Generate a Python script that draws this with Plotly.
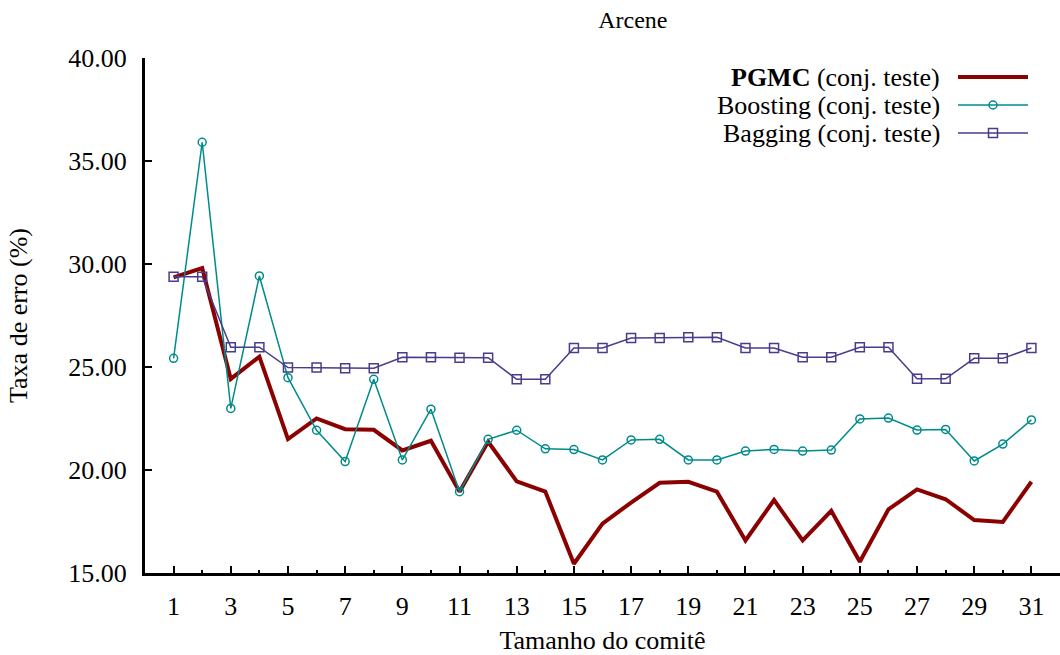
import plotly.graph_objects as go

# Committee sizes
comite = list(range(1, 32))

# Test-set error rates (%) for each method
pgmc = [29.35, 29.80, 24.42, 25.50, 21.50, 22.50, 21.98, 21.95, 20.95, 21.42,
        18.95, 21.37, 19.45, 18.95, 15.45, 17.40, 18.42, 19.38, 19.43, 18.95,
        16.58, 18.54, 16.58, 18.02, 15.55, 18.09, 19.06, 18.58, 17.57, 17.48,
        19.43]
boosting = [25.42, 35.91, 22.99, 29.42, 24.48, 21.93, 20.41, 24.40, 20.49, 22.95,
            18.95, 21.49, 21.93, 21.03, 20.99, 20.49, 21.46, 21.49, 20.49, 20.49,
            20.92, 21.00, 20.92, 20.97, 22.48, 22.52, 21.94, 21.97, 20.44, 21.26,
            22.43]
bagging = [29.38, 29.38, 25.96, 25.96, 24.97, 24.97, 24.94, 24.94, 25.47, 25.47,
           25.45, 25.45, 24.40, 24.40, 25.92, 25.92, 26.41, 26.41, 26.44, 26.44,
           25.92, 25.92, 25.47, 25.47, 25.96, 25.96, 24.43, 24.43, 25.42, 25.42,
           25.92]

x_ticks = list(range(1, 32, 2))
y_ticks = [15, 20, 25, 30, 35, 40]

C_PGMC = "#8b0000"
C_BOOST = "#008b8b"
C_BAG = "#483d8b"
FONT = "'Liberation Serif', 'Times New Roman', serif"
FS = 26

fig = go.Figure()
fig.add_trace(go.Scatter(x=comite, y=pgmc, mode="lines",
                         line=dict(color=C_PGMC, width=4), name="PGMC"))
fig.add_trace(go.Scatter(x=comite, y=boosting, mode="lines+markers",
                         line=dict(color=C_BOOST, width=1.5),
                         marker=dict(symbol="circle-open", size=8, color=C_BOOST,
                                     line=dict(width=1.5)),
                         name="Boosting"))
fig.add_trace(go.Scatter(x=comite, y=bagging, mode="lines+markers",
                         line=dict(color=C_BAG, width=1.5),
                         marker=dict(symbol="square-open", size=9, color=C_BAG,
                                     line=dict(width=1.5)),
                         name="Bagging"))

# Legend drawn at the top right: text on the left, sample on the right
W, H = 915, 515  # plot area in px
def px(xp):
    return (xp - 145) / W
def py(yp):
    return (573 - yp) / H

legend_rows = [
    ("<b>PGMC</b> (conj. teste)", C_PGMC, 4, None),
    ("Boosting (conj. teste)", C_BOOST, 1.5, "circle"),
    ("Bagging (conj. teste)", C_BAG, 1.5, "rect"),
]
shapes = []
annotations = []
for i, (label, color, width, sym) in enumerate(legend_rows):
    yc = py(77 + 28 * i)
    annotations.append(dict(text=label, xref="paper", yref="paper",
                            x=px(942), y=yc, xanchor="right", yanchor="middle",
                            showarrow=False, font=dict(family=FONT, size=FS, color="black")))
    shapes.append(dict(type="line", xref="paper", yref="paper",
                       x0=px(958), x1=px(1028), y0=yc, y1=yc,
                       line=dict(color=color, width=width)))
    if sym:
        r = 4 if sym == "circle" else 4.5
        shapes.append(dict(type=sym, xref="paper", yref="paper",
                           xsizemode="pixel", ysizemode="pixel",
                           xanchor=px(993), yanchor=yc,
                           x0=-r, x1=r, y0=-r, y1=r,
                           line=dict(color=color, width=1.5),
                           fillcolor="rgba(0,0,0,0)"))

tick_font = dict(family=FONT, size=FS, color="black")

fig.update_layout(
    width=1060, height=655,
    margin=dict(l=145, r=0, t=58, b=82),
    paper_bgcolor="white", plot_bgcolor="white",
    showlegend=False,
    font=dict(family=FONT, size=FS, color="black"),
    title=dict(text="Arcene", x=0.597, xanchor="center", y=0.97, yanchor="middle",
               font=dict(family=FONT, size=24, color="black")),
    shapes=shapes,
    annotations=annotations,
    xaxis=dict(range=[0, 32], tickvals=x_ticks, ticktext=[str(v) for v in x_ticks],
               tickfont=tick_font,
               ticks="inside", ticklen=7, tickwidth=2, tickcolor="black",
               showline=True, linecolor="black", linewidth=3,
               showgrid=False, zeroline=False,
               ticklabelstandoff=8,
               minor=dict(tickvals=list(range(2, 32, 2)), ticks="inside",
                          ticklen=3, tickwidth=2, tickcolor="black"),
               title=dict(text="Tamanho do comitê", standoff=11,
                          font=dict(family=FONT, size=FS))),
    yaxis=dict(range=[15, 40], tickvals=y_ticks, tickformat=".2f",
               tickfont=tick_font,
               ticks="inside", ticklen=7, tickwidth=2, tickcolor="black",
               showline=True, linecolor="black", linewidth=3,
               showgrid=False, zeroline=False,
               ticklabelstandoff=10,
               title=dict(text="Taxa de erro (%)", standoff=34,
                          font=dict(family=FONT, size=FS))),
)

fig.write_html("out.html")
